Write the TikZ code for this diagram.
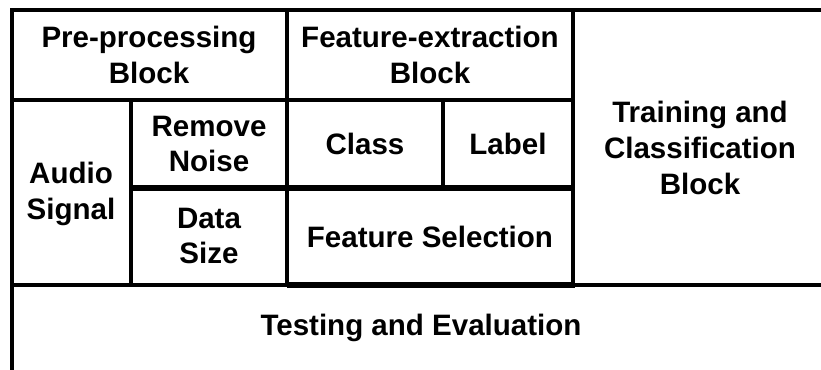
\documentclass[tikz,border=0pt]{standalone}
\usepackage{fontspec}
\setmainfont{Liberation Sans}
\usepackage{tikz}
\tikzstyle{BlockText}=[align=center,inner sep=0pt,font=\bfseries\fontsize{25.2}{30.7}\selectfont]
\tikzstyle{GridLine}=[line width=2.6pt,line cap=rect]
\tikzstyle{ThickLine}=[line width=5.2pt]

\begin{document}
\begin{tikzpicture}[x=0.03cm,y=-0.03cm]
        \useasboundingbox(0,0)rectangle(821,370);
        % grid
        \draw[GridLine](821,10)--(12,10)--(12,372);
        \draw[GridLine](12,100)--(573,100);
        \draw[GridLine](287,10)--(287,285);
        \draw[GridLine](573,10)--(573,285);
        \draw[GridLine](131,100)--(131,285);
        \draw[GridLine](443,100)--(443,188);
        \draw[GridLine](12,285)--(823,285);
        \draw[ThickLine](131,188)--(575,188);
        \draw[ThickLine](287,285)--(575,285);
        % texts
        \node[BlockText](pre)at(149,55){Pre-processing\\Block};
        \node[BlockText](fex)at(430,55){Feature-extraction\\Block};
        \node[BlockText](trn)at(700,148){Training and\\Classification\\Block};
        \node[BlockText](aud)at(71,194){Audio\\Signal};
        \node[BlockText](rmn)at(209,144){Remove\\Noise};
        \node[BlockText](dsz)at(209,236){Data\\Size};
        \node[BlockText](cls)at(365,144){Class};
        \node[BlockText](lbl)at(508,144){Label};
        \node[BlockText](fsl)at(430,237){Feature Selection};
        \node[BlockText](tst)at(421,328){Testing and Evaluation};
    \end{tikzpicture}
\end{document}
